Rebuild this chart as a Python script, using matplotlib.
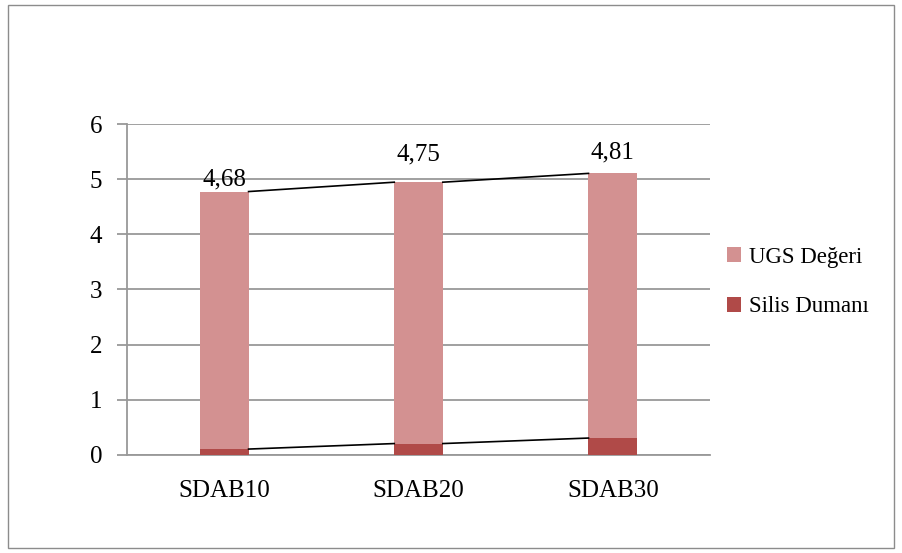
import numpy as np
import matplotlib.pyplot as plt
from matplotlib.patches import Rectangle

plt.rcParams['font.family'] = ['Liberation Serif', 'DejaVu Serif']

categories = ['SDAB10', 'SDAB20', 'SDAB30']
silis = [0.1, 0.2, 0.3]
ugs = [4.68, 4.75, 4.81]
ugs_labels = ['4,68', '4,75', '4,81']
label_offsets = [1, 12, 7]   # points above bar top

c_ugs = '#D39191'
c_silis = '#B04A48'
grid_c = '#999999'
fs = 18

fig = plt.figure(figsize=(9.02, 5.53), dpi=100, facecolor='w')
fig.patches.append(Rectangle((0.009, 0.009), 0.982, 0.982, transform=fig.transFigure,
                             fill=False, edgecolor='#8c8c8c', lw=1.0))
ax = fig.add_axes([0.141, 0.178, 0.646, 0.597])

x = np.arange(len(categories))
w = 0.25
ax.bar(x, silis, w, color=c_silis, label='Silis Dumanı', zorder=3)
ax.bar(x, ugs, w, bottom=silis, color=c_ugs, label='UGS Değeri', zorder=3)

tops = np.array(silis) + np.array(ugs)
for i in range(len(x) - 1):
    ax.plot([x[i] + w / 2, x[i + 1] - w / 2], [tops[i], tops[i + 1]], color='k', lw=1.2, zorder=4)
    ax.plot([x[i] + w / 2, x[i + 1] - w / 2], [silis[i], silis[i + 1]], color='k', lw=1.2, zorder=4)

for i, lab in enumerate(ugs_labels):
    ax.annotate(lab, (x[i], tops[i]), xytext=(0, label_offsets[i]), textcoords='offset points',
                ha='center', va='bottom', fontsize=fs)

ax.set_xlim(-0.5, 2.5)
ax.set_ylim(0, 6)
ax.set_yticks(range(0, 7))
ax.yaxis.grid(True, color=grid_c, lw=1.3, zorder=0)
ax.set_xticks(x)
ax.set_xticklabels(categories)
ax.tick_params(axis='x', length=0, pad=18, labelsize=fs)
ax.tick_params(axis='y', length=7, width=1.3, color=grid_c, pad=11, labelsize=fs)
for s in ['top', 'right']:
    ax.spines[s].set_visible(False)
ax.spines['left'].set_color(grid_c)
ax.spines['left'].set_linewidth(1.3)
ax.spines['bottom'].set_color(grid_c)
ax.spines['bottom'].set_linewidth(1.3)

h, l = ax.get_legend_handles_labels()
fig.legend(h[::-1], l[::-1], loc='center left', bbox_to_anchor=(0.783, 0.49), frameon=False,
           fontsize=16.5, handlelength=0.6, handleheight=0.6, handletextpad=0.35, labelspacing=1.25)

plt.savefig('out.png', dpi=100, facecolor='w')
